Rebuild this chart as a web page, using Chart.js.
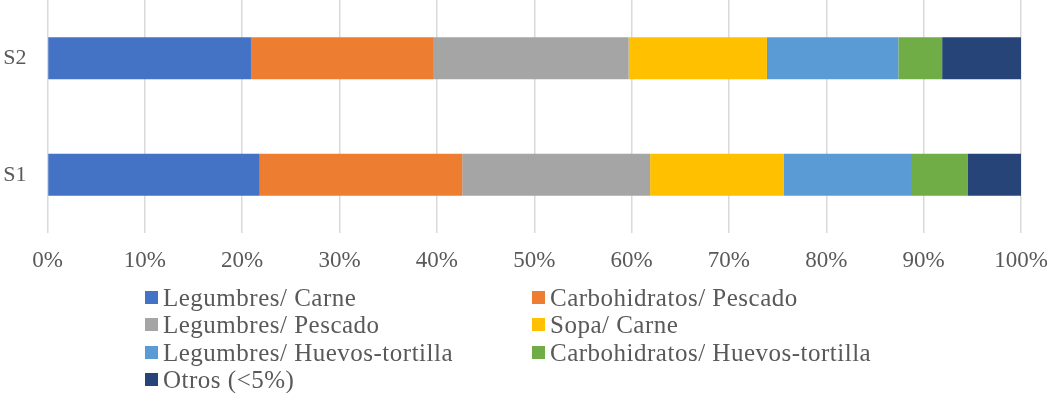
<!DOCTYPE html>
<html>
<head>
<meta charset="utf-8">
<script src="https://cdn.jsdelivr.net/npm/chart.js@4/dist/chart.umd.min.js"></script>
<style>
  html, body {
    margin: 0;
    padding: 0;
    background: #ffffff;
  }
  #wrap {
    position: relative;
    width: 1048px;
    height: 393px;
  }
  #legend {
    position: absolute;
    left: 145px;
    top: 284px;
    display: grid;
    grid-template-columns: 387px auto;
    grid-auto-rows: 27.3px;
    font-family: "Liberation Serif", serif;
    font-size: 25px;
    letter-spacing: 0.5px;
    color: #595959;
  }
  .item {
    display: flex;
    align-items: center;
    white-space: nowrap;
    line-height: 27px;
  }
  .swatch {
    width: 13px;
    height: 13px;
    margin-right: 5px;
    flex: none;
  }
</style>
</head>
<body>
<div id="wrap">
  <canvas id="mealChart" width="1048" height="393"></canvas>
  <div id="legend"></div>
</div>
<script>

// ======================
// DATA
// ======================

const categories = ["S2", "S1"];

const seriesNames = [
  "Legumbres/ Carne",
  "Carbohidratos/ Pescado",
  "Legumbres/ Pescado",
  "Sopa/ Carne",
  "Legumbres/ Huevos-tortilla",
  "Carbohidratos/ Huevos-tortilla",
  "Otros (<5%)"
];

// percent per series: [S2, S1]
const legumbresCarne = [20.9, 21.8];
const carbohidratosPescado = [18.7, 20.8];
const legumbresPescado = [20.1, 19.3];
const sopaCarne = [14.2, 13.7];
const legumbresHuevos = [13.5, 13.1];
const carbohidratosHuevos = [4.5, 5.8];
const otros = [8.1, 5.5];

const xTicks = [0, 10, 20, 30, 40, 50, 60, 70, 80, 90, 100];


// ======================
// CHART COLORS
// ======================

const seriesColors = [
  "#4472C4",
  "#ED7D31",
  "#A5A5A5",
  "#FFC000",
  "#5B9BD5",
  "#70AD47",
  "#264478"
];

const textColor = "#595959";
const gridColor = "#d9d9d9";
const fontFamily = "'Liberation Serif', serif";


// ======================
// DATASETS
// ======================

const seriesValues = [
  legumbresCarne,
  carbohidratosPescado,
  legumbresPescado,
  sopaCarne,
  legumbresHuevos,
  carbohidratosHuevos,
  otros
];

const datasets = seriesNames.map((name, i) => ({
  label: name,
  data: seriesValues[i],
  backgroundColor: seriesColors[i],
  borderWidth: 0,
  categoryPercentage: 0.6,
  barPercentage: 0.6
}));


// ======================
// CHART
// ======================

const canvas =
  document.getElementById(
    "mealChart"
  );

const mealChart =
  new Chart(canvas, {

    type: "bar",

    data: {
      labels: categories,
      datasets
    },

    options: {

      indexAxis: "y",
      responsive: false,
      animation: false,

      layout: {
        padding: { left: 0, right: 27, top: 0, bottom: 0 }
      },

      plugins: {
        legend: { display: false },
        tooltip: { enabled: false }
      },

      scales: {

        x: {
          stacked: true,
          min: 0,
          max: 100,
          afterBuildTicks: scale => {
            scale.ticks = xTicks.map(v => ({ value: v }));
          },
          ticks: {
            padding: 14,
            color: textColor,
            font: { family: fontFamily, size: 23 },
            callback: v => v + "%"
          },
          grid: {
            color: gridColor,
            lineWidth: 1.5,
            drawTicks: false
          },
          border: { display: false },
          afterFit: scale => {
            scale.height = 160;
            scale.paddingLeft = 0;
            scale.paddingRight = 0;
          }
        },

        y: {
          stacked: true,
          ticks: {
            padding: 21,
            color: textColor,
            font: { family: fontFamily, size: 22 }
          },
          grid: {
            display: false,
            drawTicks: false
          },
          border: { display: false },
          afterFit: scale => {
            scale.width = 47.5;
            scale.paddingTop = 0;
            scale.paddingBottom = 0;
          }
        }

      }

    }

  });


// ======================
// LEGEND
// ======================

function renderLegend(chart) {

  const box =
    document.getElementById(
      "legend"
    );

  chart.data.datasets.forEach(ds => {

    const item = document.createElement("div");
    item.className = "item";

    const swatch = document.createElement("span");
    swatch.className = "swatch";
    swatch.style.background = ds.backgroundColor;

    const text = document.createElement("span");
    text.textContent = ds.label;

    item.appendChild(swatch);
    item.appendChild(text);
    box.appendChild(item);

  });

}

renderLegend(
  mealChart
);

</script>
</body>
</html>
